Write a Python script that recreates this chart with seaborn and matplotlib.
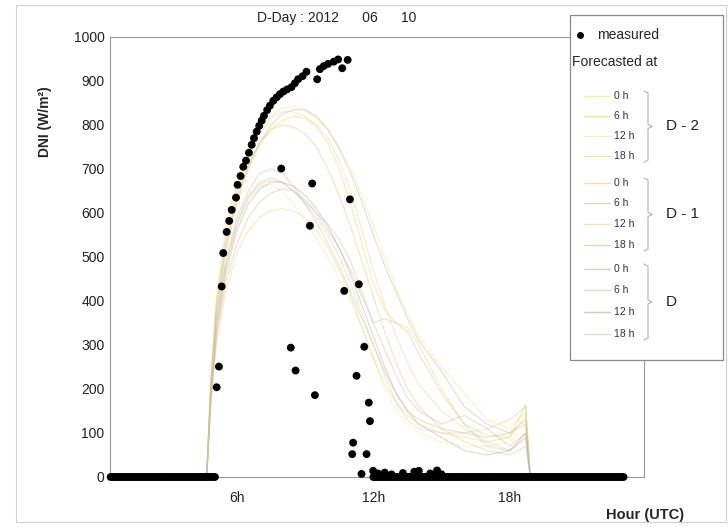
import numpy as np
import pandas as pd
import seaborn as sns
import matplotlib
matplotlib.use('Agg')
from matplotlib import pyplot as plt
from matplotlib.lines import Line2D
from matplotlib.patches import Rectangle

# measured DNI (hour UTC, W/m2)
day_hours = [5.11, 5.21, 5.33, 5.40, 5.55, 5.66, 5.77, 5.96, 6.03, 6.16, 6.28, 6.40, 6.53,
             6.65, 6.75, 6.87, 6.98, 7.09, 7.19, 7.33, 7.45, 7.60, 7.75, 7.89, 8.04, 8.21,
             8.40, 8.55, 8.69, 8.89, 9.06, 9.53, 9.65, 9.82, 10.01, 10.26, 10.45, 10.63, 10.87,
             7.95, 9.31, 9.21, 10.97, 8.37, 8.58, 9.43, 10.72, 11.36, 11.60, 11.26, 11.80,
             11.85, 11.11, 11.07, 11.70, 11.48, 11.99]
day_dni = [204, 251, 433, 509, 557, 582, 607, 635, 664, 684, 705, 719, 737,
           755, 770, 785, 798, 810, 821, 834, 844, 855, 863, 870, 876, 881,
           886, 895, 904, 911, 921, 904, 927, 934, 939, 944, 949, 929, 948,
           701, 667, 571, 631, 294, 242, 186, 423, 438, 296, 230, 169,
           127, 78, 52, 52, 7, 14]
# small afternoon bumps in the zero line
bump_hours = [12.2, 12.5, 12.8, 13.3, 13.8, 14.0, 14.5, 14.8, 15.0]
bump_dni = [8, 10, 6, 9, 12, 14, 8, 15, 6]

# night / evening zeros, 5-min records
night_hours = np.arange(0.45, 5.05, 1 / 12)
evening_hours = np.arange(12.0, 23.05, 1 / 12)

# forecasts
fc_hours = [4.67, 4.85, 5.1, 5.5, 6.0, 6.5, 7.0, 7.5, 8.0, 8.5, 9.0, 9.5, 10.0, 10.5,
            11.0, 11.5, 12.0, 12.5, 13.0, 13.5, 14.0, 15.0, 16.0, 17.0, 18.0, 18.7, 18.9]
fc_runs = ['D-2 0h', 'D-2 6h', 'D-2 12h', 'D-2 18h',
           'D-1 0h', 'D-1 6h', 'D-1 12h', 'D-1 18h',
           'D 0h', 'D 6h', 'D 12h', 'D 18h']
fc_d2_0 = [0, 230, 410, 560, 670, 740, 790, 820, 838, 842, 835, 815, 790, 750, 700, 640, 570, 500, 430, 370, 320, 250, 190, 130, 110, 150, 0]
fc_d2_6 = [0, 200, 370, 510, 620, 700, 755, 790, 810, 820, 815, 795, 760, 700, 620, 530, 440, 380, 350, 340, 300, 200, 120, 95, 90, 165, 0]
fc_d2_12 = [0, 180, 340, 470, 570, 630, 660, 665, 650, 620, 580, 540, 500, 450, 400, 340, 270, 200, 150, 120, 100, 80, 70, 70, 80, 110, 0]
fc_d2_18 = [0, 160, 300, 420, 510, 560, 590, 605, 610, 605, 590, 560, 520, 470, 410, 340, 270, 210, 170, 140, 120, 100, 90, 80, 90, 140, 0]
fc_d1_0 = [0, 210, 390, 530, 640, 710, 760, 790, 800, 795, 780, 750, 700, 640, 570, 490, 410, 330, 260, 200, 160, 110, 80, 60, 50, 70, 0]
fc_d1_6 = [0, 190, 360, 490, 590, 650, 690, 700, 690, 660, 620, 580, 530, 480, 420, 360, 300, 240, 190, 150, 130, 110, 100, 90, 100, 120, 0]
fc_d1_12 = [0, 220, 400, 545, 655, 730, 780, 815, 830, 830, 820, 800, 770, 720, 650, 560, 470, 390, 320, 260, 210, 150, 110, 80, 60, 90, 0]
fc_d1_18 = [0, 170, 320, 440, 530, 590, 625, 645, 655, 650, 630, 600, 560, 520, 470, 410, 350, 290, 230, 180, 150, 120, 140, 110, 70, 100, 0]
fc_d_0 = [0, 200, 380, 520, 630, 705, 760, 800, 825, 835, 834, 820, 790, 745, 690, 625, 550, 480, 420, 360, 310, 240, 160, 120, 100, 130, 0]
fc_d_6 = [0, 190, 350, 480, 580, 640, 670, 680, 670, 650, 625, 600, 575, 540, 490, 420, 350, 360, 350, 330, 280, 190, 120, 70, 60, 90, 0]
fc_d_12 = [0, 175, 330, 460, 560, 620, 655, 670, 670, 660, 640, 610, 570, 520, 460, 390, 320, 250, 190, 150, 120, 90, 60, 50, 60, 100, 0]
fc_d_18 = [0, 185, 345, 475, 575, 635, 665, 675, 668, 650, 620, 590, 550, 500, 440, 370, 300, 230, 170, 130, 110, 100, 100, 110, 130, 160, 0]
fc_values = [fc_d2_0, fc_d2_6, fc_d2_12, fc_d2_18, fc_d1_0, fc_d1_6, fc_d1_12, fc_d1_18,
             fc_d_0, fc_d_6, fc_d_12, fc_d_18]
fc_colors = ['#f2e270', '#efd24a', '#f4e79a', '#ead56a',
             '#e6c27a', '#dcb888', '#e9cf95', '#cfb896',
             '#bdb5a6', '#c9c1b1', '#b0a999', '#d2cabb']

x_ticks = [6, 12, 18]
x_ticklabels = ['6h', '12h', '18h']
y_ticks = list(range(0, 1001, 100))

meas = pd.DataFrame({
    'hour': list(night_hours) + day_hours + bump_hours + list(evening_hours),
    'dni': [0] * len(night_hours) + day_dni + bump_dni + [0] * len(evening_hours),
})
fc = pd.DataFrame({
    'hour': fc_hours * len(fc_runs),
    'dni': [v for vals in fc_values for v in vals],
    'run': [r for r in fc_runs for _ in fc_hours],
})

sns.set_style('white')
plt.rcParams['font.family'] = ['Liberation Sans', 'DejaVu Sans']

W, H = 728, 527
fig = plt.figure(figsize=(W / 100, H / 100), dpi=100)
ax = fig.add_axes([110 / W, 1 - 477 / H, (644 - 110) / W, (477 - 37) / H])

def fx(x):
    return x / W

def fy(y):
    return 1 - y / H

sns.lineplot(data=fc, x='hour', y='dni', hue='run', palette=fc_colors, estimator=None,
             sort=False, legend=False, lw=0.9, alpha=0.4, ax=ax)
sns.scatterplot(data=meas, x='hour', y='dni', color='black', s=32, edgecolor='none',
                legend=False, zorder=3, ax=ax)
ax.collections[-1].set_clip_on(False)

ax.set_xlim(0.42, 23.9)
ax.set_ylim(0, 1000)
ax.set_xticks(x_ticks)
ax.set_xticklabels(x_ticklabels)
ax.set_yticks(y_ticks)
ax.set_xlabel('')
ax.set_ylabel('')
ax.tick_params(axis='y', length=3, width=0.6, color='#aaaaaa', direction='in', pad=4, labelsize=10, labelcolor='#222222')
ax.tick_params(axis='x', length=0, pad=10, labelsize=10, labelcolor='#222222')
for sp in ax.spines.values():
    sp.set_color('#999999')
    sp.set_linewidth(0.8)

fig.text(fx(257), fy(18), 'D-Day : 2012      06      10', fontsize=10, ha='left', va='center', color='#222222')
fig.text(fx(45), fy(122), 'DNI (W/m²)', fontsize=10, fontweight='bold', rotation=90, ha='center', va='center')
fig.text(fx(645), fy(515), 'Hour (UTC)', fontsize=10.5, fontweight='bold', ha='center', va='center')

# outer frame
fig.patches.append(Rectangle((fx(16), fy(522)), fx(710), (522 - 5) / H, transform=fig.transFigure,
                             fill=False, edgecolor='#d0d0d0', lw=0.8, zorder=0))

# hand made legend box
fig.patches.append(Rectangle((fx(570), fy(360)), fx(723 - 570), (360 - 15) / H, transform=fig.transFigure,
                             facecolor='white', edgecolor='#8a8a8a', lw=0.9, zorder=5))
fig.lines.append(Line2D([fx(580)], [fy(35)], marker='o', ms=4, color='black', transform=fig.transFigure, zorder=6))
fig.text(fx(597), fy(35), 'measured', fontsize=10, va='center', zorder=6)
fig.text(fx(572), fy(62), 'Forecasted at', fontsize=10, va='center', zorder=6)

row_y = [96, 116, 136, 156, 183, 203, 224, 245, 269, 290, 312, 334]
row_lab = ['0 h', '6 h', '12 h', '18 h'] * 3
for i in range(12):
    fig.lines.append(Line2D([fx(584), fx(610)], [fy(row_y[i]), fy(row_y[i])], color=fc_colors[i],
                            lw=1.0, alpha=0.6, transform=fig.transFigure, zorder=6))
    fig.text(fx(614), fy(row_y[i]), row_lab[i], fontsize=7.5, va='center', color='#333333', zorder=6)

groups = ['D - 2', 'D - 1', 'D']
for g in range(3):
    top = row_y[4 * g] - 5
    bot = row_y[4 * g + 3] + 6
    mid = (top + bot) / 2
    bx = [644, 648, 648, 652, 648, 648, 644]
    by = [top, top + 2, mid - 2, mid, mid + 2, bot - 2, bot]
    fig.lines.append(Line2D([fx(v) for v in bx], [fy(v) for v in by], color='#b0b0b0', lw=0.8,
                            transform=fig.transFigure, zorder=6))
    fig.text(fx(666), fy(mid), groups[g], fontsize=11, va='center', color='#222222', zorder=6)

fig.savefig('out.png', dpi=100)
